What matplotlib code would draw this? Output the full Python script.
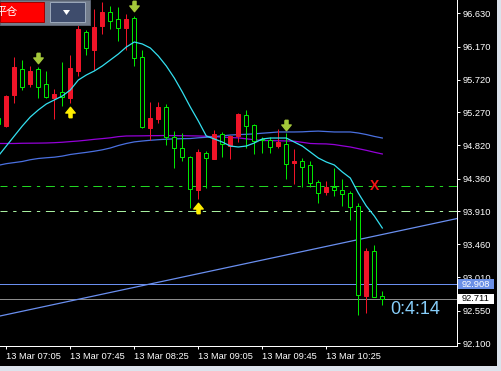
import matplotlib
matplotlib.use('Agg')
import matplotlib.pyplot as plt
import numpy as np
import pandas as pd
from matplotlib.patches import Rectangle, Polygon
from matplotlib.path import Path
from matplotlib.transforms import blended_transform_factory

# M5 bars, 13 Mar 07:00 .. 11:00 (red = up, green = down)
opens = [95.193, 95.083, 95.508, 95.865, 95.660, 95.865, 95.660, 95.467, 95.550, 95.467,
         95.838, 96.373, 96.126, 96.456, 96.648, 96.552, 96.428, 96.565, 96.030, 95.056,
         95.179, 95.344, 94.932, 94.781, 94.658, 94.204, 94.712, 94.630, 94.973, 94.808,
         94.946, 95.234, 95.097, 94.905, 94.891, 94.808, 94.836, 94.575, 94.603, 94.548,
         94.314, 94.177, 94.246, 94.204, 94.163, 93.985, 92.749, 93.367, 92.749]
highs = [95.234, 95.508, 96.030, 95.989, 95.907, 95.893, 95.838, 95.591, 95.962, 96.058,
         96.483, 96.401, 96.689, 96.785, 96.730, 96.717, 96.620, 96.593, 96.126, 95.412,
         95.412, 95.385, 95.014, 94.987, 94.671, 94.767, 94.740, 95.028, 95.001, 94.959,
         95.261, 95.303, 95.111, 94.932, 94.932, 95.042, 94.987, 94.767, 94.644, 94.603,
         94.342, 94.328, 94.507, 94.355, 94.191, 94.026, 93.408, 93.449, 92.818]
lows = [95.083, 95.069, 95.399, 95.577, 95.618, 95.467, 95.467, 95.179, 95.358, 95.399,
        95.769, 96.058, 95.852, 96.346, 96.415, 96.250, 96.126, 95.907, 95.056, 94.891,
        95.124, 94.822, 94.507, 94.603, 93.957, 94.081, 94.232, 94.630, 94.658, 94.630,
        94.863, 94.781, 94.699, 94.712, 94.712, 94.781, 94.355, 94.287, 94.246, 94.246,
        94.026, 94.136, 94.122, 93.985, 93.793, 92.488, 92.516, 92.736, 92.626]
closes = [95.111, 95.495, 95.893, 95.618, 95.838, 95.618, 95.481, 95.522, 95.481, 95.879,
          96.415, 96.154, 96.442, 96.648, 96.524, 96.428, 96.552, 96.016, 95.069, 95.193,
          95.344, 94.932, 94.781, 94.658, 94.218, 94.726, 94.644, 94.973, 94.836, 94.946,
          95.248, 95.083, 94.877, 94.891, 94.795, 94.863, 94.561, 94.603, 94.520, 94.301,
          94.163, 94.246, 94.204, 94.150, 93.971, 92.763, 93.367, 92.736, 92.711]

ma_cyan = [94.671, 94.808, 94.946, 95.083, 95.207, 95.303, 95.385, 95.440, 95.495, 95.577,
           95.714, 95.783, 95.838, 95.907, 95.989, 96.071, 96.167, 96.236, 96.209, 96.154,
           96.044, 95.907, 95.742, 95.550, 95.344, 95.152, 94.946, 94.905, 94.863, 94.808,
           94.795, 94.808, 94.850, 94.905, 94.918, 94.918, 94.918, 94.863, 94.808, 94.726,
           94.644, 94.589, 94.548, 94.452, 94.369, 94.163, 93.985, 93.848, 93.683]
ma_purple = [94.843, 94.843, 94.843, 94.846, 94.847, 94.848, 94.850, 94.854, 94.860, 94.869,
             94.877, 94.888, 94.900, 94.910, 94.921, 94.937, 94.946, 94.947, 94.948, 94.950,
             94.951, 94.953, 94.951, 94.950, 94.948, 94.946, 94.942, 94.936, 94.931, 94.925,
             94.920, 94.907, 94.894, 94.884, 94.883, 94.880, 94.878, 94.874, 94.859, 94.843,
             94.839, 94.837, 94.828, 94.811, 94.795, 94.772, 94.749, 94.723, 94.699]
ma_blue = [94.543, 94.566, 94.581, 94.596, 94.620, 94.637, 94.647, 94.655, 94.670, 94.692,
           94.707, 94.721, 94.737, 94.756, 94.781, 94.815, 94.843, 94.865, 94.877, 94.887,
           94.895, 94.902, 94.906, 94.909, 94.911, 94.921, 94.928, 94.937, 94.948, 94.959,
           94.965, 94.969, 94.975, 94.984, 94.992, 95.001, 95.001, 95.001, 95.003, 95.009,
           95.013, 95.007, 95.001, 95.001, 95.001, 94.987, 94.966, 94.940, 94.918]

price_ticks = [96.630, 96.170, 95.720, 95.270, 94.820, 94.360, 93.910, 93.460, 93.010, 92.550, 92.100]

level_green = 94.255
level_lightgreen = 93.912
level_blue = 92.908
bid = 92.711
trend_x = [0, 48]
trend_y = [92.470, 93.594]

down_idx = [5, 17, 36]
down_px = [96.010, 96.737, 95.097]
up_idx = [9, 25]
up_px = [95.275, 93.957]
cross_idx = 47
countdown = '0:4:14'

times = pd.date_range('2024-03-13 07:00', periods=len(opens), freq='5min')
tick_idx = list(range(1, len(opens), 8))

W, H = 502, 371
fig = plt.figure(figsize=(W / 100, H / 100), dpi=100, facecolor='black')
ax = fig.add_axes([0, 25 / H, 457 / W, 346 / H])
ax.set_facecolor('black')
ax.set_xlim(0.2125, 57.3375)
ax.set_ylim(92.0631, 96.8126)
ppx = (96.8126 - 92.0631) / 346

LW = 0.72
RED = '#f01428'
GREEN = '#00e600'

x = np.arange(len(opens))
for i in x:
    o, h, l, c = opens[i], highs[i], lows[i], closes[i]
    col = RED if c >= o else GREEN
    ax.vlines(i, l, h, color=col, lw=LW, zorder=3)
    hgt = max(abs(c - o), ppx * 0.8)
    ax.add_patch(Rectangle((i - 0.25, min(o, c)), 0.5, hgt, fc=col if c >= o else 'black',
                           ec=col, lw=LW, zorder=4))

ax.plot(x, ma_cyan, color='#33e0f0', lw=0.9, zorder=5)
ax.plot(x, ma_purple, color='#9400d8', lw=0.9, zorder=2)
ax.plot(x, ma_blue, color='#4a70e0', lw=0.9, zorder=2)

ax.axhline(level_green, color='#22d622', lw=LW, ls=(2, (9, 5.7, 3.3, 5.7)), zorder=1)
ax.axhline(level_lightgreen, color='#a8f0a0', lw=LW, ls=(2, (9, 5.7, 3.3, 5.7)), zorder=1)
ax.axhline(level_blue, color='#6a8ff0', lw=LW, zorder=1)
ax.axhline(bid, color='#8c8c8c', lw=LW, zorder=1)
ax.axline((trend_x[0], trend_y[0]), (trend_x[1], trend_y[1]), color='#6a8ff0', lw=0.9, zorder=1)

down_marker = Path([(-0.3, 1), (0.3, 1), (0.3, 0.1), (0.9, 0.1), (0, -1), (-0.9, 0.1), (-0.3, 0.1), (-0.3, 1)])
up_marker = Path([(-0.3, -1), (0.3, -1), (0.3, -0.1), (0.9, -0.1), (0, 1), (-0.9, -0.1), (-0.3, -0.1), (-0.3, -1)])
ax.plot(down_idx, down_px, ls='none', marker=down_marker, ms=7.5, color='#a4c83a', mec='#a4c83a', zorder=6)
ax.plot(up_idx, up_px, ls='none', marker=up_marker, ms=7.5, color='#ffee00', mec='#ffee00', zorder=6)
ax.text(cross_idx, level_green, 'X', color='#f01414', fontsize=10, fontweight='bold',
        family='Liberation Sans', ha='center', va='center', zorder=6)

# axes styling
for s in ['left', 'top']:
    ax.spines[s].set_visible(False)
for s in ['right', 'bottom']:
    ax.spines[s].set_color('white')
    ax.spines[s].set_linewidth(LW)
ax.yaxis.tick_right()
ax.set_yticks(price_ticks)
ax.set_yticklabels([f'{p:.3f}' for p in price_ticks])
ax.set_xticks(tick_idx)
ax.set_xticklabels([times[i].strftime('%d %b %H:%M') for i in tick_idx], ha='left')
ax.tick_params(colors='white', length=2.2, width=LW, direction='out', labelsize=6.7, pad=2)
for lab in ax.get_xticklabels() + ax.get_yticklabels():
    lab.set_family('Liberation Sans')

# price boxes on the scale
tr = blended_transform_factory(ax.transAxes, ax.transData)
for price, fc, tc in [(level_blue, '#6a8fe6', 'white'), (bid, 'white', 'black')]:
    ax.add_patch(Rectangle((458 / 457, price - 5 * ppx), 36 / 457, 10 * ppx, transform=tr,
                           fc=fc, ec='none', clip_on=False, zorder=7))
    ax.text(461.5 / 457, price, f'{price:.3f}', transform=tr, color=tc, fontsize=6.7,
            family='Liberation Sans', va='center', ha='left', clip_on=False, zorder=8)

fig.text(390 / W, 1 - 309 / H, countdown, color='#87cefa', fontsize=13,
         family='Liberation Sans', va='center', ha='left')


def px_rect(x0, y0, x1, y1, **kw):
    fig.add_artist(Rectangle((x0 / W, 1 - y1 / H), (x1 - x0) / W, (y1 - y0) / H,
                             transform=fig.transFigure, **kw))


# frame strips
px_rect(497, 0, 502, 371, fc='#dce3ec', ec='none')
px_rect(0, 366, 502, 371, fc='#dce3ec', ec='none')

# trade panel top-left
px_rect(0, 0, 90, 25, fc='#737d8c', ec='#5a6270', lw=LW)
px_rect(0, 2, 44, 22, fc='#ff0000', ec='#a00000', lw=LW)
px_rect(50, 2, 85, 22, fc='#3e4c6c', ec='#9aa6b8', lw=LW)
fig.text(-5 / W, 1 - 12.5 / H, '平仓', color='white', fontsize=8,
         family=['Noto Sans CJK SC', 'DejaVu Sans'], va='center', ha='left')
fig.add_artist(Polygon([(63 / W, 1 - 10 / H), (70 / W, 1 - 10 / H), (66.5 / W, 1 - 15 / H)],
                       closed=True, transform=fig.transFigure, fc='white', ec='none'))

fig.savefig('out.png', dpi=100, facecolor='black')
